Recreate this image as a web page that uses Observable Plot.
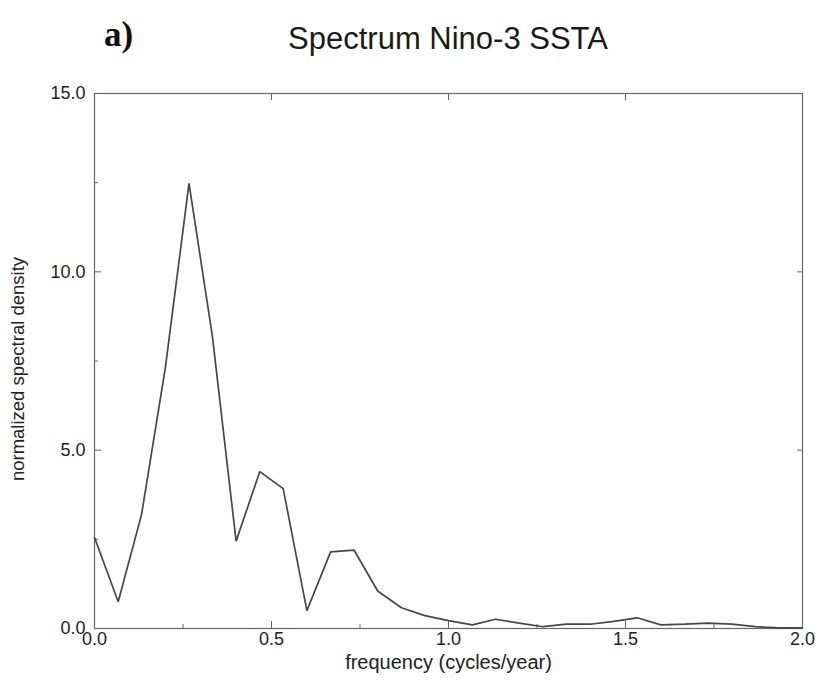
<!DOCTYPE html>
<html>
<head>
<meta charset="utf-8">
<script src="https://cdn.jsdelivr.net/npm/d3@7"></script>
<script src="https://cdn.jsdelivr.net/npm/@observablehq/plot@0.6"></script>
<style>
  body { margin: 0; background: #fff; font-family: "Liberation Sans", Arial, sans-serif; }
  #wrap { position: relative; width: 818px; }
  #head { position: relative; height: 75px; }
  #tag { position: absolute; left: 104px; top: 15px; font: bold 35px "Liberation Serif", serif; color: #111; }
  #title { position: absolute; left: 0; width: 896px; text-align: center; top: 21px; font-size: 31px; color: #1a1a1a; }
</style>
</head>
<body>
<div id="wrap">
  <div id="head"><span id="tag">a)</span><div id="title">Spectrum Nino-3 SSTA</div></div>
  <div id="chart"></div>
</div>
<script>
// frequency grid (cycles/year)
const frequency = [0.000, 0.067, 0.133, 0.200, 0.267, 0.333, 0.400, 0.467, 0.533, 0.600,
                   0.667, 0.733, 0.800, 0.867, 0.933, 1.000, 1.067, 1.133, 1.200, 1.267,
                   1.333, 1.400, 1.467, 1.533, 1.600, 1.667, 1.733, 1.800, 1.867, 1.933, 2.000];
// normalized spectral density
const density = [2.55, 0.75, 3.20, 7.30, 12.48, 8.20, 2.45, 4.40, 3.92, 0.50,
                 2.15, 2.20, 1.05, 0.58, 0.36, 0.22, 0.10, 0.26, 0.15, 0.05,
                 0.12, 0.12, 0.20, 0.30, 0.10, 0.12, 0.15, 0.12, 0.05, 0.02, 0.02];
const xTicks = [0, 0.5, 1.0, 1.5, 2.0];
const xMinor = [0.25, 0.75, 1.25, 1.75];
const yTicks = [0, 5, 10, 15];
const yMinor = [2.5, 7.5, 12.5];
const xLabel = "frequency (cycles/year)";
const yLabel = "normalized spectral density";

const data = frequency.map((f, i) => ({f, d: density[i]}));

const chart = Plot.plot({
  width: 818,
  height: 615,
  marginLeft: 94,
  marginRight: 16,
  marginTop: 18,
  marginBottom: 62,
  style: {fontFamily: "'Liberation Sans', Arial, sans-serif", fontSize: "18px", color: "#222", background: "#fff"},
  x: {domain: [0, 2]},
  y: {domain: [0, 15]},
  marks: [
    Plot.frame({stroke: "#666", strokeWidth: 1.2}),
    Plot.axisX(xTicks, {anchor: "bottom", tickSize: -7, tickPadding: 11, tickFormat: d => d.toFixed(1), label: null, stroke: "#666", fontSize: 18}),
    Plot.axisX(xMinor, {anchor: "bottom", tickSize: -4, text: null, label: null, stroke: "#666"}),
    Plot.axisX(xTicks, {anchor: "top", tickSize: -6, text: null, label: null, stroke: "#666"}),
    Plot.axisY(yTicks, {anchor: "left", tickSize: -7, tickPadding: 16, tickFormat: d => d.toFixed(1), label: null, stroke: "#666", fontSize: 18}),
    Plot.axisY(yMinor, {anchor: "left", tickSize: -4, text: null, label: null, stroke: "#666"}),
    Plot.axisY(yTicks, {anchor: "right", tickSize: -6, text: null, label: null, stroke: "#666"}),
    Plot.line(data, {x: "f", y: "d", stroke: "#474747", strokeWidth: 1.7, strokeLinejoin: "miter"}),
    Plot.text([yLabel], {frameAnchor: "left", textAnchor: "middle", rotate: -90, dx: -76, dy: 8, fontSize: 18.5, fill: "#222"}),
    Plot.text([xLabel], {frameAnchor: "bottom", textAnchor: "middle", dy: 40, fontSize: 20, fill: "#222"})
  ]
});
document.getElementById("chart").appendChild(chart);
</script>
</body>
</html>
